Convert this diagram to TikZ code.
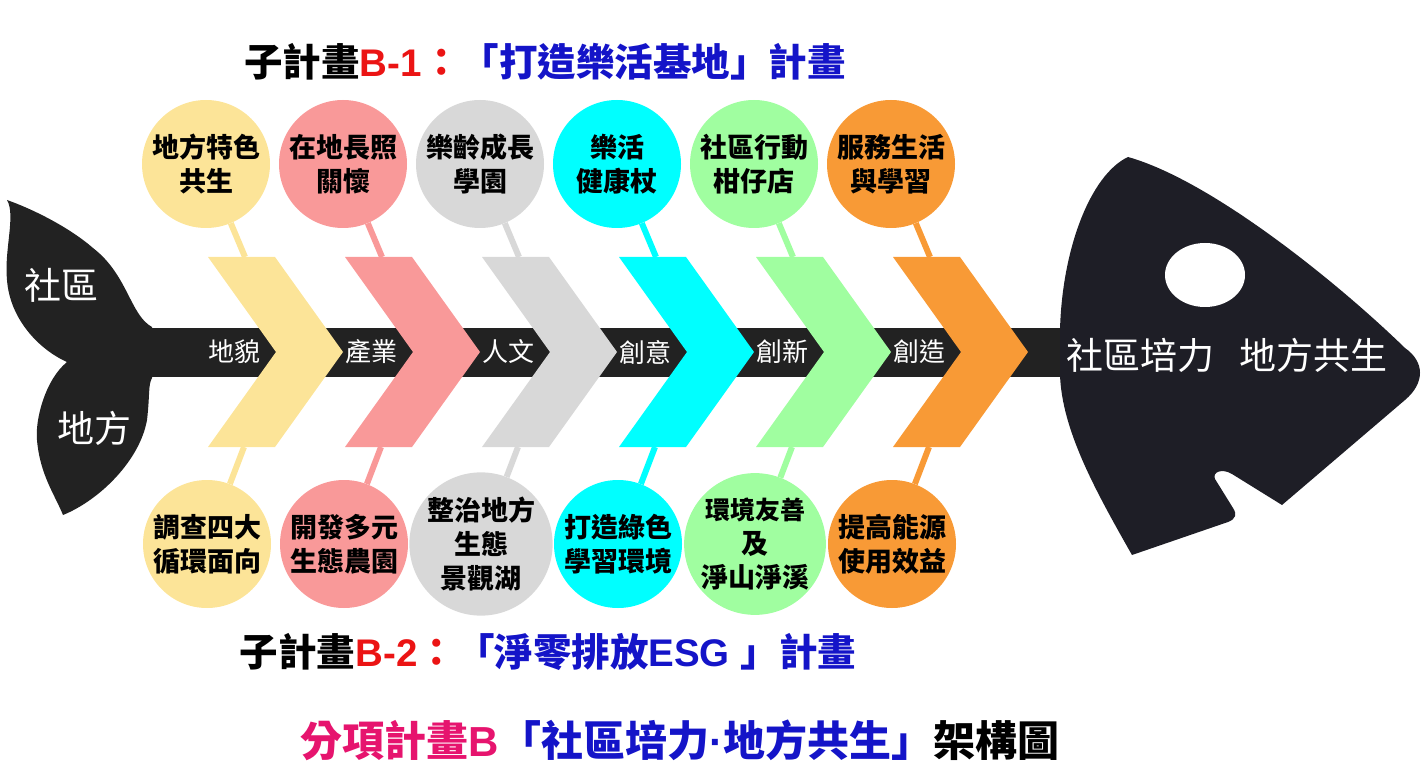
\documentclass[tikz,border=0pt]{standalone}
\usepackage{fontspec}
\setmainfont{Noto Sans CJK TC}
\newfontfamily\arialfont{Liberation Sans}
\usetikzlibrary{positioning}
\definecolor{fishyellow}{RGB}{252,228,152}
\definecolor{fishpink}{RGB}{249,153,153}
\definecolor{fishgray}{RGB}{216,216,216}
\definecolor{fishcyan}{RGB}{0,255,255}
\definecolor{fishgreen}{RGB}{160,254,160}
\definecolor{fishorange}{RGB}{248,154,54}
\definecolor{bonedark}{RGB}{34,34,34}
\definecolor{headdark}{RGB}{30,30,38}
\definecolor{titleblue}{RGB}{20,20,200}
\definecolor{titlered}{RGB}{235,20,20}
\definecolor{titlemag}{RGB}{230,20,110}
\tikzset{bubble/.style={circle,fill=#1,minimum size=128pt,inner sep=0pt,align=center,
font=\fontsize{27}{34}\selectfont\bfseries},
stick/.style={draw=#1,line width=6pt},
bonetext/.style={text=white,font=\fontsize{26}{26}\selectfont},
bigtext/.style={text=white,font=\fontsize{37}{37}\selectfont},
title/.style={font=\fontsize{38.5}{38.5}\selectfont\bfseries}}

\begin{document}
\begin{tikzpicture}[x=1pt,y=-1pt]
  \useasboundingbox (0,0) rectangle (1428,778);
  % tail, spine and head
  \fill [bonedark] (152,327) .. controls (130,315) and (128,275) .. (93,248)
    .. controls (70,228) and (35,210) .. (7,200)
    .. controls (16,215) and (4,250) .. (7,280)
    .. controls (10,320) and (40,350) .. (67,362)
    .. controls (45,380) and (35,420) .. (37,440)
    .. controls (40,475) and (55,495) .. (63,515)
    .. controls (100,500) and (140,460) .. (147,420)
    .. controls (150,395) and (148,385) .. (152,378) -- cycle;
  \fill [bonedark] (130,328) rectangle (1070,377);
  \fill [headdark] (1128,157) .. controls (1090,175) and (1062,250) .. (1060,330)
    -- (1060,375) .. controls (1062,430) and (1095,490) .. (1132,555)
    -- (1228,522) .. controls (1236,519) and (1237,514) .. (1233,508)
    -- (1215,479) .. controls (1212,472) and (1222,468) .. (1232,474)
    -- (1282,505) -- (1405,400) .. controls (1425,383) and (1425,362) .. (1405,348)
    .. controls (1335,280) and (1210,180) .. (1128,157) -- cycle;
  \fill [white] (1205,275) ellipse [x radius=40pt, y radius=32pt];
  \node (tailup) [bigtext] at (61,285) {社區};
  \node (taildn) [bigtext] at (94,428) {地方};
  \node (head) [bigtext] at (1227,355) {社區培力\hspace{0.7em}地方共生};
  % bones
  \foreach \i/\c/\lab/\up/\dn in {
    0/fishyellow/地貌/{地方特色\\共生}/{調查四大\\循環面向},
    1/fishpink/產業/{在地長照\\關懷}/{開發多元\\生態農園},
    2/fishgray/人文/{樂齡成長\\學園}/{整治地方\\生態\\景觀湖},
    3/fishcyan/創意/{樂活\\健康杖}/{打造綠色\\學習環境},
    4/fishgreen/創新/{社區行動\\柑仔店}/{\fontsize{25}{32}\selectfont 環境友善\\及\\淨山淨溪},
    5/fishorange/創造/{服務生活\\與學習}/{提高能源\\使用效益}}
  {
    \pgfmathsetmacro\x{208+137*\i}
    \fill [\c] (\x,257) -- ++(67,0) -- ++(68,95) -- ++(-68,95) -- ++(-67,0) -- ++(68,-95) -- cycle;
    \node (s\i) [bonetext] at (\x+26,352) {\lab};
    \coordinate (ta\i) at (\x+37,257);
    \coordinate (tb\i) at (\x+36,447);
    \node (u\i) [bubble=\c] at (\x-2,164) {\up};
    \node (d\i) [bubble=\c] at (\x-1,544) {\dn};
    \draw [stick=\c] (ta\i) -- (u\i);
    \draw [stick=\c] (tb\i) -- (d\i);
  }
  % titles
  \node (planone) [title] at (545,62) {子計畫{\arialfont\color{titlered}B-1}\textcolor{titlered}{：}\textcolor{titleblue}{「打造樂活基地」計畫}};
  \node (plantwo) [title] at (548,652) {子計畫{\arialfont\color{titlered}B-2}\textcolor{titlered}{：}\textcolor{titleblue}{「淨零排放{\arialfont ESG }」計畫}};
  \node (planb) [title,font=\fontsize{42}{42}\selectfont\bfseries] at (680,740) {\textcolor{titlemag}{分項計畫{\arialfont B}}\textcolor{titleblue}{「社區培力{\arialfont ·}地方共生」}架構圖};
\end{tikzpicture}
\end{document}
